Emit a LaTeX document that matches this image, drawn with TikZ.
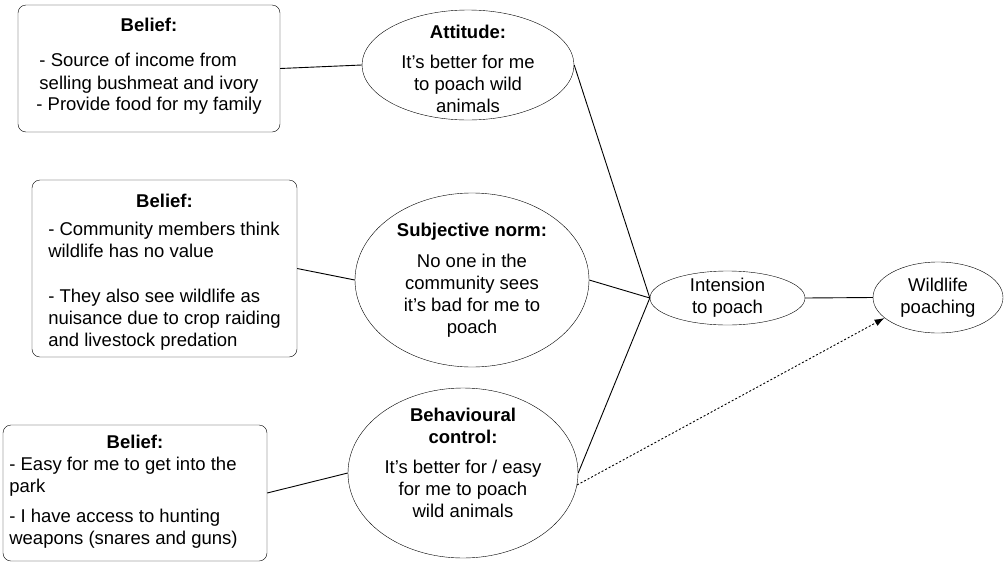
\documentclass[tikz,border=0pt]{standalone}
\usepackage{fontspec}
\setmainfont{Liberation Sans}
\usetikzlibrary{arrows.meta,shapes.geometric}
\tikzset{
  belief/.style={draw, rounded corners=8pt, align=center, inner sep=2pt, font=\fontsize{18.5}{22}\selectfont},
  factor/.style={draw, ellipse, inner sep=0pt},
  inside/.style={align=center, font=\fontsize{18.5}{22}\selectfont},
  link/.style={line width=0.9pt},
  dotarr/.style={link, dash pattern=on 2pt off 2pt, -{Latex[length=10pt, width=7pt]}}}

\begin{document}
\begin{tikzpicture}[x=1pt, y=-1pt]
  \useasboundingbox (0,0) rectangle (1005,563);
  % belief boxes
  \node[belief, font=\fontsize{18.5}{23}\selectfont, minimum width=262pt, minimum height=127pt] (b1) at (149,68.5)
    {\textbf{Belief:}\\[12pt]\begin{tabular}[t]{@{}l@{}}- Source of income from\\selling bushmeat and ivory\end{tabular}\\- Provide food for my family\rule[-9pt]{0pt}{9pt}};
  \node[belief, minimum width=265pt, minimum height=177pt] (b2) at (164.5,268.5)
    {\textbf{Belief:}\rule{0pt}{23pt}\\[6pt]\begin{tabular}[t]{@{}l@{}}- Community members think\\wildlife has no value\\[23pt]- They also see wildlife as\\nuisance due to crop raiding\\and livestock predation\end{tabular}};
  \node[belief, minimum width=264pt, minimum height=136pt] (b3) at (135,493)
    {\textbf{Belief:}\\\begin{tabular}[t]{@{}l@{}}- Easy for me to get into the\\park\\[8pt]- I have access to hunting\\weapons (snares and guns)\end{tabular}\hspace*{23pt}};
  % determinants
  \node[factor, minimum width=212pt, minimum height=110pt,
    label={[inside, yshift=-4pt]center:{\textbf{Attitude:}\\[8pt]It's better for me\\to poach wild\\animals}}] (att) at (468,65) {};
  \node[factor, minimum width=234pt, minimum height=174pt,
    label={[inside]center:{\textbf{Subjective norm:}\\[9pt]No one in the\\community sees\\it's bad for me to\\poach}}] (sn) at (472,280) {};
  \node[factor, minimum width=230pt, minimum height=170pt,
    label={[inside, yshift=10pt]center:{\textbf{Behavioural}\\\textbf{control:}\\[8pt]It's better for / easy\\for me to poach\\wild animals}}] (bc) at (463,473) {};
  % intention and behaviour
  \node[factor, minimum width=155pt, minimum height=54pt,
    label={[inside]center:{Intension\\to poach}}] (int) at (727.5,298) {};
  \node[factor, minimum width=130pt, minimum height=71pt,
    label={[inside]center:{Wildlife\\poaching}}] (wp) at (938,297.5) {};
  \draw[link] (b1.east) -- (att.west);
  \draw[link] (b2.east) -- (sn.west);
  \draw[link] (b3.east) -- (bc.west);
  \draw[link] (att.east) -- (int.west);
  \draw[link] (sn.east) -- (int.west);
  \draw[link] (bc.east) -- (int.west);
  \draw[link] (int.east) -- (wp.west);
  \draw[dotarr] (bc.-6) -- (wp.201);
\end{tikzpicture}
\end{document}
